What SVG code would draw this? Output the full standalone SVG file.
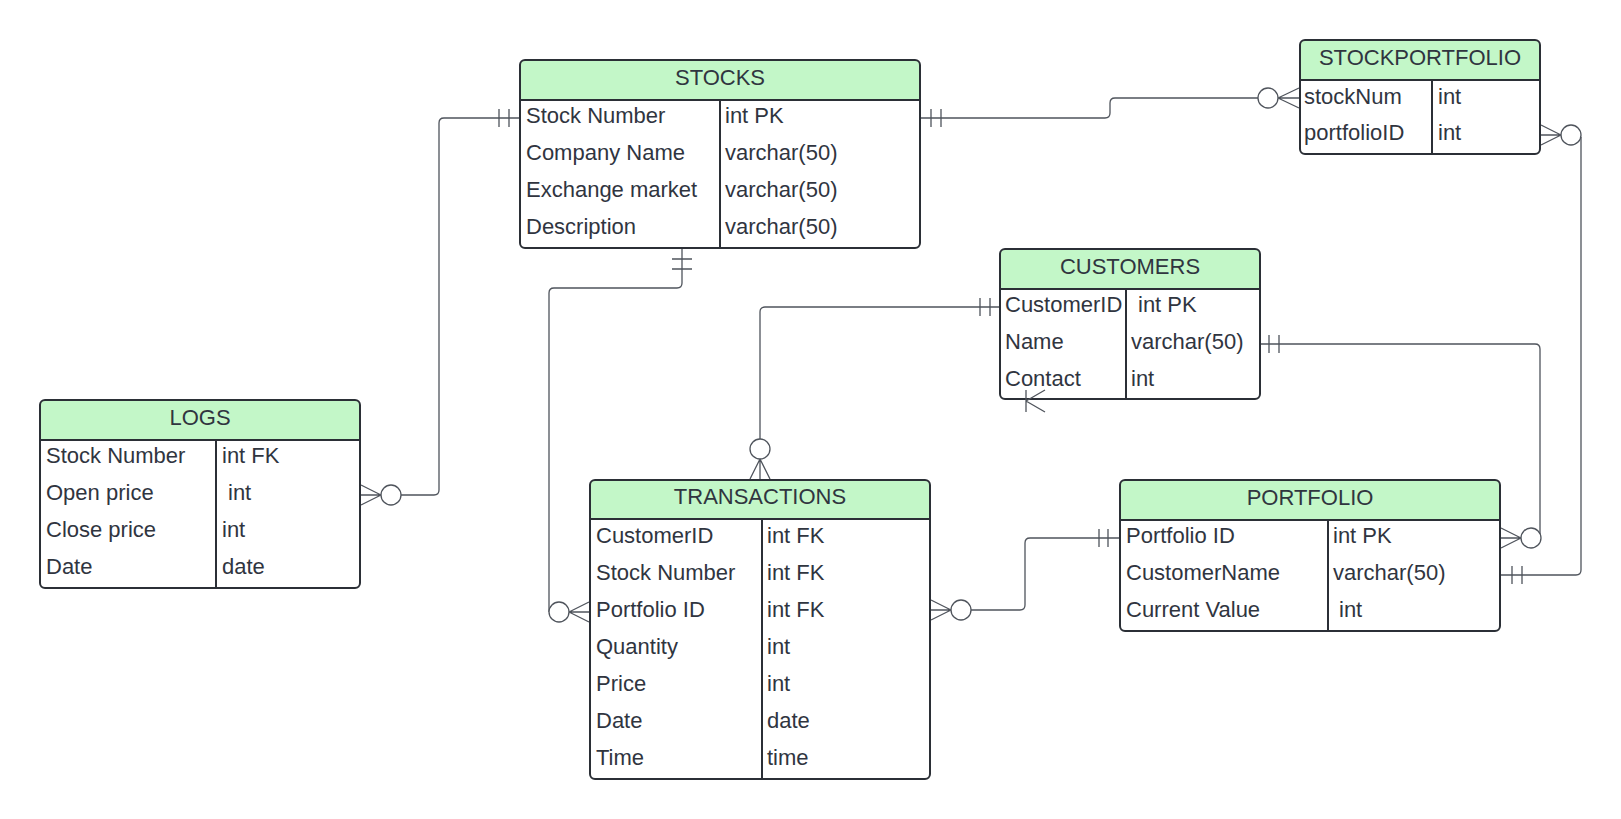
<svg xmlns="http://www.w3.org/2000/svg" width="1621" height="819" viewBox="0 0 1621 819">
<style>
.bg{fill:#ffffff;stroke:none}
.hd{fill:#c3f7c8;stroke:none}
.ol{fill:none;stroke:#2b2f36;stroke-width:2}
.sep{stroke:#2b2f36;stroke-width:2}
.t{font-family:"Liberation Sans",Arial,sans-serif;font-size:22px;fill:#30353f}
.h{font-family:"Liberation Sans",Arial,sans-serif;font-size:22px;fill:#30353f;text-anchor:middle}
.c{fill:none;stroke:#4f545c;stroke-width:1.3}
.ci{fill:#ffffff;stroke:#4f545c;stroke-width:1.3}
</style>
<rect x="0" y="0" width="1621" height="819" fill="#ffffff"/>

<g id="stocks">
  <rect class="bg" x="520" y="60" width="400" height="188" rx="5"/>
  <path class="hd" d="M525 60 H915 Q920 60 920 65 V100 H520 V65 Q520 60 525 60 Z"/>
  <line class="sep" x1="520" y1="100" x2="920" y2="100"/>
  <line class="sep" x1="720" y1="100" x2="720" y2="248"/>
  <rect class="ol" x="520" y="60" width="400" height="188" rx="5"/>
  <text class="h" x="720" y="85">STOCKS</text>
  <text class="t" x="526" y="123">Stock Number</text>
  <text class="t" x="526" y="160">Company Name</text>
  <text class="t" x="526" y="197">Exchange market</text>
  <text class="t" x="526" y="234">Description</text>
  <text class="t" x="725" y="123">int PK</text>
  <text class="t" x="725" y="160">varchar(50)</text>
  <text class="t" x="725" y="197">varchar(50)</text>
  <text class="t" x="725" y="234">varchar(50)</text>
</g>

<g id="stockportfolio">
  <rect class="bg" x="1300" y="40" width="240" height="114" rx="5"/>
  <path class="hd" d="M1305 40 H1535 Q1540 40 1540 45 V80 H1300 V45 Q1300 40 1305 40 Z"/>
  <line class="sep" x1="1300" y1="80" x2="1540" y2="80"/>
  <line class="sep" x1="1432" y1="80" x2="1432" y2="154"/>
  <rect class="ol" x="1300" y="40" width="240" height="114" rx="5"/>
  <text class="h" x="1420" y="65">STOCKPORTFOLIO</text>
  <text class="t" x="1304" y="104">stockNum</text>
  <text class="t" x="1304" y="140">portfolioID</text>
  <text class="t" x="1438" y="104">int</text>
  <text class="t" x="1438" y="140">int</text>
</g>

<g id="customers">
  <rect class="bg" x="1000" y="249" width="260" height="150" rx="5"/>
  <path class="hd" d="M1005 249 H1255 Q1260 249 1260 254 V289 H1000 V254 Q1000 249 1005 249 Z"/>
  <line class="sep" x1="1000" y1="289" x2="1260" y2="289"/>
  <line class="sep" x1="1126" y1="289" x2="1126" y2="399"/>
  <rect class="ol" x="1000" y="249" width="260" height="150" rx="5"/>
  <text class="h" x="1130" y="274">CUSTOMERS</text>
  <text class="t" x="1005" y="312">CustomerID</text>
  <text class="t" x="1005" y="349">Name</text>
  <text class="t" x="1005" y="386">Contact</text>
  <text class="t" x="1138" y="312">int PK</text>
  <text class="t" x="1131" y="349">varchar(50)</text>
  <text class="t" x="1131" y="386">int</text>
</g>

<g id="logs">
  <rect class="bg" x="40" y="400" width="320" height="188" rx="5"/>
  <path class="hd" d="M45 400 H355 Q360 400 360 405 V440 H40 V405 Q40 400 45 400 Z"/>
  <line class="sep" x1="40" y1="440" x2="360" y2="440"/>
  <line class="sep" x1="216" y1="440" x2="216" y2="588"/>
  <rect class="ol" x="40" y="400" width="320" height="188" rx="5"/>
  <text class="h" x="200" y="425">LOGS</text>
  <text class="t" x="46" y="463">Stock Number</text>
  <text class="t" x="46" y="500">Open price</text>
  <text class="t" x="46" y="537">Close price</text>
  <text class="t" x="46" y="574">Date</text>
  <text class="t" x="222" y="463">int FK</text>
  <text class="t" x="228" y="500">int</text>
  <text class="t" x="222" y="537">int</text>
  <text class="t" x="222" y="574">date</text>
</g>

<g id="transactions">
  <rect class="bg" x="590" y="480" width="340" height="299" rx="5"/>
  <path class="hd" d="M595 480 H925 Q930 480 930 485 V519 H590 V485 Q590 480 595 480 Z"/>
  <line class="sep" x1="590" y1="519" x2="930" y2="519"/>
  <line class="sep" x1="762" y1="519" x2="762" y2="779"/>
  <rect class="ol" x="590" y="480" width="340" height="299" rx="5"/>
  <text class="h" x="760" y="504">TRANSACTIONS</text>
  <text class="t" x="596" y="543">CustomerID</text>
  <text class="t" x="596" y="580">Stock Number</text>
  <text class="t" x="596" y="617">Portfolio ID</text>
  <text class="t" x="596" y="654">Quantity</text>
  <text class="t" x="596" y="691">Price</text>
  <text class="t" x="596" y="728">Date</text>
  <text class="t" x="596" y="765">Time</text>
  <text class="t" x="767" y="543">int FK</text>
  <text class="t" x="767" y="580">int FK</text>
  <text class="t" x="767" y="617">int FK</text>
  <text class="t" x="767" y="654">int</text>
  <text class="t" x="767" y="691">int</text>
  <text class="t" x="767" y="728">date</text>
  <text class="t" x="767" y="765">time</text>
</g>

<g id="portfolio">
  <rect class="bg" x="1120" y="480" width="380" height="151" rx="5"/>
  <path class="hd" d="M1125 480 H1495 Q1500 480 1500 485 V520 H1120 V485 Q1120 480 1125 480 Z"/>
  <line class="sep" x1="1120" y1="520" x2="1500" y2="520"/>
  <line class="sep" x1="1328" y1="520" x2="1328" y2="631"/>
  <rect class="ol" x="1120" y="480" width="380" height="151" rx="5"/>
  <text class="h" x="1310" y="505">PORTFOLIO</text>
  <text class="t" x="1126" y="543">Portfolio ID</text>
  <text class="t" x="1126" y="580">CustomerName</text>
  <text class="t" x="1126" y="617">Current Value</text>
  <text class="t" x="1333" y="543">int PK</text>
  <text class="t" x="1333" y="580">varchar(50)</text>
  <text class="t" x="1339" y="617">int</text>
</g>

<g id="connectors">
  <!-- STOCKS -> STOCKPORTFOLIO -->
  <path class="c" d="M921 118 H1105 Q1110 118 1110 113 V103 Q1110 98 1115 98 H1258"/>
  <path class="c" d="M931 109 V127 M941 109 V127"/>
  <circle class="ci" cx="1268" cy="98" r="10"/>
  <path class="c" d="M1278 98 L1299 88 M1278 98 L1299 108 M1278 98 H1299"/>

  <!-- STOCKS -> LOGS -->
  <path class="c" d="M519 118 H444 Q439 118 439 123 V490 Q439 495 434 495 H401"/>
  <path class="c" d="M499 109 V127 M509 109 V127"/>
  <circle class="ci" cx="391" cy="495" r="10"/>
  <path class="c" d="M381 495 L361 485 M381 495 L361 505 M381 495 H361"/>

  <!-- STOCKS -> TRANSACTIONS -->
  <path class="c" d="M682 249 V283 Q682 288 677 288 H554 Q549 288 549 293 V612"/>
  <path class="c" d="M672 259 H692 M672 269 H692"/>
  <circle class="ci" cx="559" cy="612" r="10"/>
  <path class="c" d="M569 612 L589 602 M569 612 L589 622 M569 612 H589"/>

  <!-- CUSTOMERS -> TRANSACTIONS -->
  <path class="c" d="M999 307 H765 Q760 307 760 312 V439"/>
  <path class="c" d="M980 298 V316 M990 298 V316"/>
  <circle class="ci" cx="760" cy="449" r="10"/>
  <path class="c" d="M760 459 L750 479 M760 459 L770 479 M760 459 V479"/>

  <!-- TRANSACTIONS -> PORTFOLIO -->
  <path class="c" d="M971 610 H1020 Q1025 610 1025 605 V543 Q1025 538 1030 538 H1119"/>
  <path class="c" d="M1099 529 V547 M1108 529 V547"/>
  <circle class="ci" cx="961" cy="610" r="10"/>
  <path class="c" d="M951 610 L931 600 M951 610 L931 620 M951 610 H931"/>

  <!-- CUSTOMERS -> PORTFOLIO -->
  <path class="c" d="M1261 344 H1535 Q1540 344 1540 349 V538"/>
  <path class="c" d="M1269 335 V353 M1279 335 V353"/>
  <circle class="ci" cx="1531" cy="538" r="10"/>
  <path class="c" d="M1521 538 L1501 528 M1521 538 L1501 548 M1521 538 H1501"/>

  <!-- PORTFOLIO -> STOCKPORTFOLIO -->
  <path class="c" d="M1501 575 H1576 Q1581 575 1581 570 V137"/>
  <path class="c" d="M1512 566 V584 M1522 566 V584"/>
  <circle class="ci" cx="1571" cy="135" r="10"/>
  <path class="c" d="M1561 135 L1541 125 M1561 135 L1541 145 M1561 135 H1541"/>

  <!-- CUSTOMERS bottom symbol -->
  <path class="c" d="M1026 390 V412 M1026 401 L1045 390 M1026 401 L1045 412"/>
</g>
</svg>
